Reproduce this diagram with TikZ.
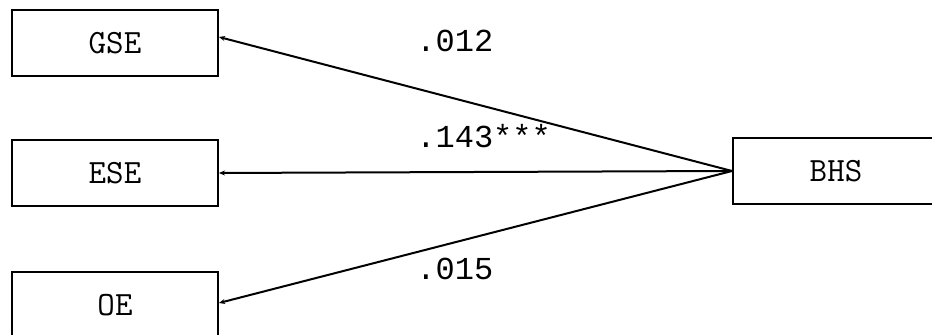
\documentclass[tikz,border=0pt]{standalone}
\usepackage{fontspec}
\setmonofont{Liberation Mono}
\newfontfamily\boxfont{Latin Modern Mono}
\usetikzlibrary{arrows.meta}
\begin{document}
\begin{tikzpicture}[x=0.5pt,y=-0.5pt,
  varbox/.style={draw, line width=1pt, minimum width=103pt, minimum height=33pt, inner sep=0pt, font=\boxfont\fontsize{17}{19}\selectfont},
  path/.style={line width=1pt, {Stealth[length=3pt,width=2.5pt]}-},
  coef/.style={anchor=base west, inner sep=0pt, font=\ttfamily\fontsize{16}{18}\selectfont}]
\useasboundingbox (0,0) rectangle (932,335);
\fill[white] (0,0) rectangle (932,335);
\node[varbox] (gse) at (115,43) {GSE};
\node[varbox] (ese) at (115,173) {ESE};
\node[varbox] (oe) at (115,305) {OE};
\node[varbox] (bhs) at (836,171) {BHS};
\coordinate (gseout) at ([yshift=3pt]gse.east);
\coordinate (oeout) at ([yshift=1pt]oe.east);
\draw[path] (gseout) -- (bhs.west);
\draw[path] (ese.east) -- (bhs.west);
\draw[path] (oeout) -- (bhs.west);
\node[coef] (c1) at (416,52) {.012};
\node[coef] (c2) at (416,148) {.143***};
\node[coef] (c3) at (416,280) {.015};
\end{tikzpicture}
\end{document}
